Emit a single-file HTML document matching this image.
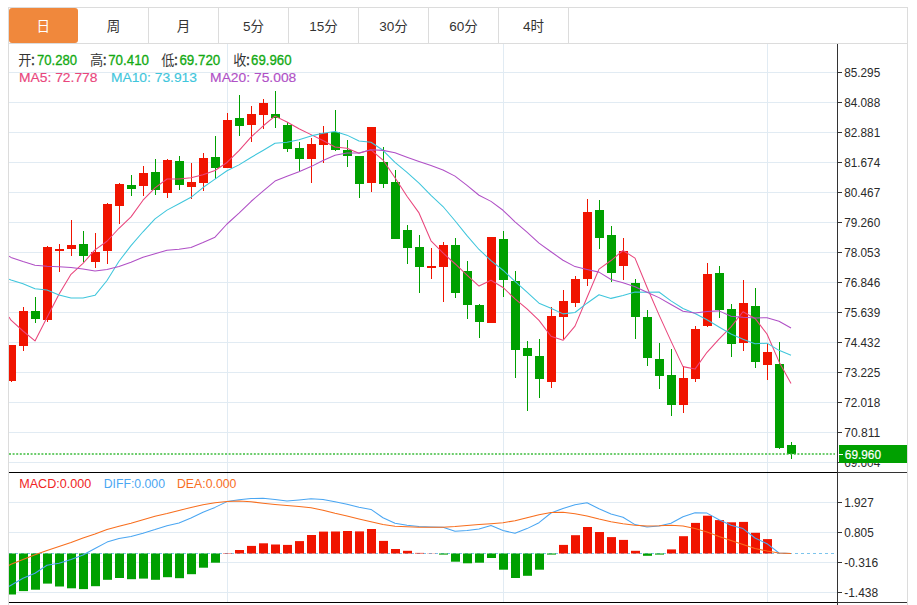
<!DOCTYPE html><html><head><meta charset="utf-8"><title>K</title><style>html,body{margin:0;padding:0;background:#fff;width:917px;height:605px;overflow:hidden}svg{display:block}text{font-family:'Liberation Sans','Noto Sans CJK SC',sans-serif}</style></head><body>
<svg width="917" height="605" viewBox="0 0 917 605">
<rect x="0" y="0" width="917" height="605" fill="#fff"/>
<path d="M9 72.5H837 M9 102.5H837 M9 132.5H837 M9 162.5H837 M9 192.5H837 M9 222.5H837 M9 252.5H837 M9 282.5H837 M9 312.5H837 M9 342.5H837 M9 372.5H837 M9 402.5H837 M9 432.5H837 M9 462.5H837 M9 502.5H837 M9 532.5H837 M9 562.5H837 M9 592.5H837 M227.5 44V602 M503.5 44V602 M767.5 44V602" stroke="#e1ebf3" stroke-width="1" fill="none"/>
<defs><clipPath id="cp"><rect x="9" y="44" width="828" height="428"/></clipPath><clipPath id="cm"><rect x="9" y="473" width="828" height="129"/></clipPath></defs>
<g clip-path="url(#cp)" shape-rendering="crispEdges"><g fill="#f01400"><rect x="6.5" y="345.4" width="9" height="35.9"/><rect x="10.5" y="344.9" width="1" height="36.9"/><rect x="18.5" y="311.2" width="9" height="34.7"/><rect x="22.5" y="307.4" width="1" height="43.6"/><rect x="42.5" y="247.3" width="9" height="72.5"/><rect x="46.5" y="246.0" width="1" height="75.5"/><rect x="54.5" y="248.9" width="9" height="2.0"/><rect x="58.5" y="244.2" width="1" height="28.2"/><rect x="66.5" y="245.3" width="9" height="3.4"/><rect x="70.5" y="220.0" width="1" height="36.2"/><rect x="90.5" y="251.7" width="9" height="10.7"/><rect x="94.5" y="233.4" width="1" height="34.5"/><rect x="102.5" y="204.1" width="9" height="46.9"/><rect x="106.5" y="203.1" width="1" height="60.5"/><rect x="114.5" y="184.0" width="9" height="22.1"/><rect x="118.5" y="182.6" width="1" height="41.4"/><rect x="138.5" y="172.9" width="9" height="12.6"/><rect x="142.5" y="165.5" width="1" height="30.5"/><rect x="162.5" y="159.8" width="9" height="33.3"/><rect x="166.5" y="159.3" width="1" height="38.5"/><rect x="186.5" y="181.7" width="9" height="4.9"/><rect x="190.5" y="163.1" width="1" height="35.9"/><rect x="198.5" y="158.4" width="9" height="24.8"/><rect x="202.5" y="153.2" width="1" height="37.9"/><rect x="222.5" y="119.5" width="9" height="48.9"/><rect x="226.5" y="113.0" width="1" height="55.4"/><rect x="246.5" y="114.2" width="9" height="10.7"/><rect x="250.5" y="105.8" width="1" height="36.2"/><rect x="258.5" y="102.8" width="9" height="11.9"/><rect x="262.5" y="98.8" width="1" height="29.8"/><rect x="306.5" y="143.7" width="9" height="15.6"/><rect x="310.5" y="137.5" width="1" height="45.9"/><rect x="318.5" y="132.6" width="9" height="12.4"/><rect x="322.5" y="125.9" width="1" height="37.2"/><rect x="366.5" y="126.6" width="9" height="56.4"/><rect x="370.5" y="126.6" width="1" height="65.4"/><rect x="426.5" y="265.9" width="9" height="1.9"/><rect x="430.5" y="248.4" width="1" height="30.4"/><rect x="438.5" y="244.7" width="9" height="21.8"/><rect x="442.5" y="241.7" width="1" height="59.9"/><rect x="486.5" y="237.4" width="9" height="85.2"/><rect x="490.5" y="236.9" width="1" height="86.4"/><rect x="546.5" y="316.3" width="9" height="66.0"/><rect x="550.5" y="307.2" width="1" height="80.6"/><rect x="558.5" y="300.9" width="9" height="15.9"/><rect x="562.5" y="289.9" width="1" height="49.0"/><rect x="570.5" y="278.6" width="9" height="24.7"/><rect x="574.5" y="275.8" width="1" height="30.8"/><rect x="582.5" y="212.3" width="9" height="66.6"/><rect x="586.5" y="199.4" width="1" height="86.1"/><rect x="618.5" y="250.7" width="9" height="14.9"/><rect x="622.5" y="238.4" width="1" height="41.2"/><rect x="678.5" y="378.1" width="9" height="27.0"/><rect x="682.5" y="365.6" width="1" height="47.0"/><rect x="690.5" y="328.9" width="9" height="50.2"/><rect x="694.5" y="326.2" width="1" height="55.4"/><rect x="702.5" y="274.0" width="9" height="52.3"/><rect x="706.5" y="263.2" width="1" height="63.8"/><rect x="738.5" y="302.6" width="9" height="40.1"/><rect x="742.5" y="280.3" width="1" height="71.0"/><rect x="762.5" y="352.0" width="9" height="12.8"/><rect x="766.5" y="343.5" width="1" height="36.8"/></g><g fill="#00a000"><rect x="30.5" y="311.2" width="9" height="7.6"/><rect x="34.5" y="297.0" width="1" height="25.6"/><rect x="78.5" y="244.0" width="9" height="12.2"/><rect x="82.5" y="231.2" width="1" height="30.5"/><rect x="126.5" y="185.0" width="9" height="3.5"/><rect x="130.5" y="174.9" width="1" height="21.1"/><rect x="150.5" y="172.0" width="9" height="17.7"/><rect x="154.5" y="158.9" width="1" height="35.9"/><rect x="174.5" y="161.3" width="9" height="23.3"/><rect x="178.5" y="156.1" width="1" height="33.5"/><rect x="210.5" y="157.0" width="9" height="11.0"/><rect x="214.5" y="136.0" width="1" height="42.8"/><rect x="234.5" y="118.4" width="9" height="7.2"/><rect x="238.5" y="94.9" width="1" height="41.1"/><rect x="270.5" y="114.2" width="9" height="4.2"/><rect x="274.5" y="91.2" width="1" height="37.2"/><rect x="282.5" y="125.4" width="9" height="23.5"/><rect x="286.5" y="122.2" width="1" height="29.7"/><rect x="294.5" y="148.4" width="9" height="10.9"/><rect x="298.5" y="142.0" width="1" height="30.2"/><rect x="330.5" y="132.1" width="9" height="18.3"/><rect x="334.5" y="110.3" width="1" height="41.1"/><rect x="342.5" y="150.2" width="9" height="5.4"/><rect x="346.5" y="139.5" width="1" height="27.3"/><rect x="354.5" y="155.6" width="9" height="28.3"/><rect x="358.5" y="155.6" width="1" height="42.2"/><rect x="378.5" y="162.2" width="9" height="21.5"/><rect x="382.5" y="147.3" width="1" height="40.9"/><rect x="390.5" y="182.0" width="9" height="57.0"/><rect x="394.5" y="170.3" width="1" height="68.7"/><rect x="402.5" y="229.9" width="9" height="18.2"/><rect x="406.5" y="225.3" width="1" height="39.0"/><rect x="414.5" y="246.9" width="9" height="20.3"/><rect x="418.5" y="235.1" width="1" height="57.8"/><rect x="450.5" y="244.7" width="9" height="48.1"/><rect x="454.5" y="238.2" width="1" height="59.7"/><rect x="462.5" y="270.8" width="9" height="34.2"/><rect x="466.5" y="260.9" width="1" height="57.8"/><rect x="474.5" y="305.0" width="9" height="16.7"/><rect x="478.5" y="303.8" width="1" height="34.0"/><rect x="498.5" y="238.6" width="9" height="41.8"/><rect x="502.5" y="231.2" width="1" height="65.7"/><rect x="510.5" y="281.3" width="9" height="68.5"/><rect x="514.5" y="271.0" width="1" height="107.4"/><rect x="522.5" y="347.7" width="9" height="7.8"/><rect x="526.5" y="341.4" width="1" height="69.2"/><rect x="534.5" y="356.2" width="9" height="22.9"/><rect x="538.5" y="338.9" width="1" height="58.8"/><rect x="594.5" y="210.3" width="9" height="27.3"/><rect x="598.5" y="199.9" width="1" height="49.1"/><rect x="606.5" y="235.1" width="9" height="38.2"/><rect x="610.5" y="226.0" width="1" height="56.0"/><rect x="630.5" y="283.0" width="9" height="33.5"/><rect x="634.5" y="278.6" width="1" height="60.8"/><rect x="642.5" y="316.5" width="9" height="41.5"/><rect x="646.5" y="309.7" width="1" height="56.5"/><rect x="654.5" y="359.3" width="9" height="16.6"/><rect x="658.5" y="343.1" width="1" height="45.4"/><rect x="666.5" y="374.6" width="9" height="30.0"/><rect x="670.5" y="348.8" width="1" height="66.7"/><rect x="714.5" y="273.1" width="9" height="36.5"/><rect x="718.5" y="266.2" width="1" height="51.4"/><rect x="726.5" y="309.1" width="9" height="34.7"/><rect x="730.5" y="304.1" width="1" height="52.6"/><rect x="750.5" y="306.1" width="9" height="56.1"/><rect x="754.5" y="288.0" width="1" height="80.3"/><rect x="774.5" y="364.1" width="9" height="83.6"/><rect x="778.5" y="342.3" width="1" height="107.1"/><rect x="786.5" y="445.4" width="9" height="8.1"/><rect x="790.5" y="442.1" width="1" height="16.9"/></g></g>
<g clip-path="url(#cp)">
<polyline points="9,316.90 11,320.20 23,331.00 35,340.90 47,317.50 59,294.32 71,274.30 83,263.30 95,249.88 107,241.24 119,228.26 131,216.90 143,200.24 155,187.84 167,178.98 179,179.10 191,177.74 203,174.84 215,170.50 227,162.44 239,150.64 251,137.14 263,126.02 275,116.10 287,121.98 299,128.72 311,134.62 323,140.58 335,146.98 347,148.32 359,153.24 371,149.82 383,160.04 395,177.76 407,196.26 419,212.92 431,240.78 443,252.98 455,263.74 467,275.12 479,286.02 491,280.32 503,287.46 515,298.86 527,308.96 539,320.44 551,336.22 563,340.32 575,326.08 587,297.44 599,269.14 611,260.54 623,250.50 635,258.08 647,287.22 659,314.88 671,341.14 683,366.62 695,369.10 707,352.30 719,339.04 731,326.88 743,311.78 755,318.44 767,334.04 779,361.66 791,383.60" fill="none" stroke="#e9467c" stroke-width="1.05" stroke-linejoin="round"/>
<polyline points="9,279.20 11,280.00 23,283.80 35,288.80 47,290.00 59,295.00 71,297.90 83,297.90 95,295.30 107,280.50 119,261.29 131,245.60 143,231.77 155,218.86 167,210.11 179,203.68 191,197.32 203,187.54 215,179.17 227,170.71 239,164.87 251,157.44 263,150.43 275,143.30 287,142.21 299,139.68 311,135.88 323,133.30 335,131.54 347,135.15 359,140.98 371,142.22 383,150.31 395,162.37 407,172.29 419,183.08 431,195.30 443,206.51 455,220.75 467,235.69 479,249.47 491,260.55 503,270.22 515,281.30 527,292.04 539,303.23 551,308.27 563,313.89 575,312.47 587,303.20 599,294.79 611,298.38 623,295.41 635,292.08 647,292.33 659,292.01 671,300.84 683,308.56 695,313.59 707,319.76 719,326.96 731,334.01 743,339.20 755,343.77 767,343.17 779,350.35 791,355.24" fill="none" stroke="#3fc6dc" stroke-width="1.05" stroke-linejoin="round"/>
<polyline points="9,256.20 11,257.40 23,261.50 35,265.20 47,266.20 59,266.70 71,267.50 83,268.90 95,271.00 107,269.50 119,266.60 131,262.30 143,257.30 155,253.80 167,250.20 179,249.30 191,247.40 203,242.50 215,237.20 227,224.00 239,213.08 251,201.52 263,191.10 275,181.08 287,176.16 299,171.68 311,166.60 323,160.42 335,155.35 347,152.93 359,152.93 371,149.83 383,150.37 395,152.83 407,157.25 419,161.38 431,165.59 443,169.91 455,176.15 467,185.42 479,195.22 491,201.38 503,210.27 515,221.83 527,232.17 539,243.16 551,251.78 563,260.20 575,266.61 587,269.44 599,272.13 611,279.47 623,282.81 635,286.69 647,292.19 659,297.62 671,304.56 683,311.23 695,313.03 707,311.48 719,310.88 731,316.19 743,317.31 755,317.93 767,317.75 779,321.18 791,328.04" fill="none" stroke="#b050c6" stroke-width="1.05" stroke-linejoin="round"/>
</g>
<path d="M9 454H835" stroke="#3cbc3c" stroke-width="1.6" stroke-dasharray="2 1.6" fill="none"/>
<path d="M9 553.5H835" stroke="#7cc4ec" stroke-width="1" stroke-dasharray="3 3" fill="none"/>
<g clip-path="url(#cm)"><g fill="#f01400"><rect x="223" y="553.1" width="9" height="0.4"/><rect x="235" y="550.0" width="9" height="3.5"/><rect x="247" y="545.9" width="9" height="7.6"/><rect x="259" y="543.3" width="9" height="10.2"/><rect x="271" y="544.5" width="9" height="9.0"/><rect x="283" y="544.9" width="9" height="8.6"/><rect x="295" y="541.1" width="9" height="12.4"/><rect x="307" y="535.0" width="9" height="18.5"/><rect x="319" y="531.6" width="9" height="21.9"/><rect x="331" y="531.5" width="9" height="22.0"/><rect x="343" y="531.0" width="9" height="22.5"/><rect x="355" y="531.4" width="9" height="22.1"/><rect x="367" y="529.0" width="9" height="24.5"/><rect x="379" y="540.9" width="9" height="12.6"/><rect x="391" y="549.0" width="9" height="4.5"/><rect x="403" y="550.8" width="9" height="2.7"/><rect x="415" y="552.9" width="9" height="0.6"/><rect x="427" y="553.3" width="9" height="0.2"/><rect x="559" y="544.9" width="9" height="8.6"/><rect x="571" y="535.2" width="9" height="18.3"/><rect x="583" y="527.0" width="9" height="26.5"/><rect x="595" y="532.0" width="9" height="21.5"/><rect x="607" y="537.1" width="9" height="16.4"/><rect x="619" y="539.9" width="9" height="13.6"/><rect x="631" y="550.8" width="9" height="2.7"/><rect x="667" y="549.4" width="9" height="4.1"/><rect x="679" y="536.2" width="9" height="17.3"/><rect x="691" y="522.9" width="9" height="30.6"/><rect x="703" y="515.7" width="9" height="37.8"/><rect x="715" y="520.1" width="9" height="33.4"/><rect x="727" y="522.3" width="9" height="31.2"/><rect x="739" y="521.9" width="9" height="31.6"/><rect x="751" y="532.8" width="9" height="20.7"/><rect x="763" y="539.1" width="9" height="14.4"/></g><g fill="#00a000"><rect x="7" y="553.5" width="9" height="41.0"/><rect x="19" y="553.5" width="9" height="37.6"/><rect x="31" y="553.5" width="9" height="36.2"/><rect x="43" y="553.5" width="9" height="30.1"/><rect x="55" y="553.5" width="9" height="33.0"/><rect x="67" y="553.5" width="9" height="34.8"/><rect x="79" y="553.5" width="9" height="35.6"/><rect x="91" y="553.5" width="9" height="32.7"/><rect x="103" y="553.5" width="9" height="26.3"/><rect x="115" y="553.5" width="9" height="24.5"/><rect x="127" y="553.5" width="9" height="25.7"/><rect x="139" y="553.5" width="9" height="25.1"/><rect x="151" y="553.5" width="9" height="26.3"/><rect x="163" y="553.5" width="9" height="23.7"/><rect x="175" y="553.5" width="9" height="24.7"/><rect x="187" y="553.5" width="9" height="20.7"/><rect x="199" y="553.5" width="9" height="14.2"/><rect x="211" y="553.5" width="9" height="9.2"/><rect x="439" y="553.5" width="9" height="1.1"/><rect x="451" y="553.5" width="9" height="8.2"/><rect x="463" y="553.5" width="9" height="9.8"/><rect x="475" y="553.5" width="9" height="9.2"/><rect x="487" y="553.5" width="9" height="4.5"/><rect x="499" y="553.5" width="9" height="16.2"/><rect x="511" y="553.5" width="9" height="24.5"/><rect x="523" y="553.5" width="9" height="22.3"/><rect x="535" y="553.5" width="9" height="16.2"/><rect x="547" y="553.5" width="9" height="1.1"/><rect x="643" y="553.5" width="9" height="2.3"/><rect x="655" y="553.5" width="9" height="1.1"/></g></g>
<g clip-path="url(#cm)">
<polyline points="8.4,586.7 11,585.20 23,578.20 35,573.30 47,565.30 59,563.30 71,559.40 83,555.00 95,548.50 107,542.10 119,538.50 131,536.50 143,533.20 155,529.60 167,525.70 179,523.00 191,518.00 203,512.30 215,507.40 227,501.60 239,499.80 251,498.50 263,498.30 275,499.40 287,501.00 299,500.00 311,498.80 323,499.40 335,501.80 347,504.20 359,507.20 371,509.40 383,517.70 395,523.30 407,525.20 419,526.60 431,527.00 443,527.20 455,531.20 467,530.60 479,529.00 491,525.60 503,530.60 515,533.20 527,528.60 539,522.70 551,513.00 563,508.40 575,504.80 587,502.80 599,508.80 611,514.10 623,517.30 635,524.60 647,527.00 659,526.10 671,523.30 683,516.70 695,512.70 707,513.10 719,519.70 731,525.20 743,528.60 755,538.00 767,543.70 779,553.00 791,553.40" fill="none" stroke="#4aa6f2" stroke-width="1.05" stroke-linejoin="round"/>
<polyline points="8.4,565.7 11,564.30 23,559.40 35,554.80 47,550.40 59,546.50 71,542.50 83,538.10 95,534.00 107,529.60 119,526.30 131,523.30 143,519.70 155,516.30 167,513.50 179,510.40 191,507.40 203,504.70 215,502.80 227,501.60 239,501.00 251,501.80 263,503.20 275,504.40 287,505.40 299,506.40 311,507.80 323,510.20 335,513.30 347,516.10 359,518.90 371,521.70 383,524.60 395,526.20 407,526.80 419,527.20 431,527.20 443,527.20 455,526.60 467,525.60 479,524.60 491,523.70 503,522.70 515,520.70 527,517.70 539,514.70 551,512.50 563,512.30 575,513.70 587,516.10 599,519.10 611,521.70 623,523.70 635,525.20 647,526.00 659,525.80 671,525.20 683,526.00 695,528.60 707,532.00 719,536.50 731,540.50 743,544.50 755,548.50 767,551.00 779,553.00 791,553.40" fill="none" stroke="#f86e1e" stroke-width="1.05" stroke-linejoin="round"/>
</g>
<path d="M8.5 7V605M907.5 7V605M8 7.5H908M8 43.5H908" stroke="#dcdcdc" stroke-width="1" fill="none"/>
<path d="M148.5 8V43 M218.5 8V43 M288.5 8V43 M358.5 8V43 M428.5 8V43 M498.5 8V43 M568.5 8V43" stroke="#dcdcdc" stroke-width="1" fill="none"/>
<path d="M9 472.5H837M9 602.5H837" stroke="#000" stroke-width="1" fill="none"/>
<path d="M837 472.5H907M837 602.5H907M837.5 44V605" stroke="#333" stroke-width="1" fill="none"/>
<path d="M838 72.5H842 M838 102.5H842 M838 132.5H842 M838 162.5H842 M838 192.5H842 M838 222.5H842 M838 252.5H842 M838 282.5H842 M838 312.5H842 M838 342.5H842 M838 372.5H842 M838 402.5H842 M838 432.5H842 M838 462.5H842 M838 502.5H842 M838 532.5H842 M838 562.5H842 M838 592.5H842" stroke="#333" stroke-width="1" fill="none"/>
<rect x="9" y="8" width="69" height="35" rx="3" ry="3" fill="#f0883c"/>
<text x="43.2" y="30.6" font-size="13.5" text-anchor="middle" fill="#fff">日</text>
<text x="113.6" y="30.6" font-size="13.5" text-anchor="middle" fill="#333333">周</text>
<text x="183.6" y="30.6" font-size="13.5" text-anchor="middle" fill="#333333">月</text>
<text x="253.6" y="30.6" font-size="13.5" text-anchor="middle" fill="#333333">5分</text>
<text x="323.6" y="30.6" font-size="13.5" text-anchor="middle" fill="#333333">15分</text>
<text x="393.6" y="30.6" font-size="13.5" text-anchor="middle" fill="#333333">30分</text>
<text x="463.6" y="30.6" font-size="13.5" text-anchor="middle" fill="#333333">60分</text>
<text x="533.6" y="30.6" font-size="13.5" text-anchor="middle" fill="#333333">4时</text>
<text x="844.2" y="76.8" font-size="13" fill="#2a2a2a" textLength="36" lengthAdjust="spacingAndGlyphs">85.295</text>
<text x="844.2" y="106.8" font-size="13" fill="#2a2a2a" textLength="36" lengthAdjust="spacingAndGlyphs">84.088</text>
<text x="844.2" y="136.8" font-size="13" fill="#2a2a2a" textLength="36" lengthAdjust="spacingAndGlyphs">82.881</text>
<text x="844.2" y="166.8" font-size="13" fill="#2a2a2a" textLength="36" lengthAdjust="spacingAndGlyphs">81.674</text>
<text x="844.2" y="196.8" font-size="13" fill="#2a2a2a" textLength="36" lengthAdjust="spacingAndGlyphs">80.467</text>
<text x="844.2" y="226.8" font-size="13" fill="#2a2a2a" textLength="36" lengthAdjust="spacingAndGlyphs">79.260</text>
<text x="844.2" y="256.8" font-size="13" fill="#2a2a2a" textLength="36" lengthAdjust="spacingAndGlyphs">78.053</text>
<text x="844.2" y="286.8" font-size="13" fill="#2a2a2a" textLength="36" lengthAdjust="spacingAndGlyphs">76.846</text>
<text x="844.2" y="316.8" font-size="13" fill="#2a2a2a" textLength="36" lengthAdjust="spacingAndGlyphs">75.639</text>
<text x="844.2" y="346.8" font-size="13" fill="#2a2a2a" textLength="36" lengthAdjust="spacingAndGlyphs">74.432</text>
<text x="844.2" y="376.8" font-size="13" fill="#2a2a2a" textLength="36" lengthAdjust="spacingAndGlyphs">73.225</text>
<text x="844.2" y="406.8" font-size="13" fill="#2a2a2a" textLength="36" lengthAdjust="spacingAndGlyphs">72.018</text>
<text x="844.2" y="436.8" font-size="13" fill="#2a2a2a" textLength="36" lengthAdjust="spacingAndGlyphs">70.811</text>
<text x="844.2" y="466.8" font-size="13" fill="#2a2a2a" textLength="36" lengthAdjust="spacingAndGlyphs">69.604</text>
<text x="844.2" y="506.8" font-size="12.5" fill="#2a2a2a" textLength="29.5" lengthAdjust="spacingAndGlyphs">1.927</text>
<text x="844.2" y="536.8" font-size="12.5" fill="#2a2a2a" textLength="29.5" lengthAdjust="spacingAndGlyphs">0.805</text>
<text x="844.2" y="566.8" font-size="12.5" fill="#2a2a2a" textLength="34" lengthAdjust="spacingAndGlyphs">-0.316</text>
<text x="844.2" y="596.8" font-size="12.5" fill="#2a2a2a" textLength="34" lengthAdjust="spacingAndGlyphs">-1.438</text>
<rect x="839" y="445" width="68" height="18" fill="#00a000"/>
<path d="M839 454.5H843" stroke="#fff" stroke-width="1"/>
<text x="844.8" y="458.7" font-size="13.2" fill="#fff" stroke="#fff" stroke-width="0.2" textLength="36.2" lengthAdjust="spacingAndGlyphs">69.960</text>
<text x="18.3" y="65.2" font-size="13.2" fill="#333333">开</text>
<text x="31.1" y="64.6" font-size="14" fill="#333333" stroke="#333333" stroke-width="0.5">:</text>
<text x="90.0" y="65.2" font-size="13.2" fill="#333333">高</text>
<text x="102.8" y="64.6" font-size="14" fill="#333333" stroke="#333333" stroke-width="0.5">:</text>
<text x="161.3" y="65.2" font-size="13.2" fill="#333333">低</text>
<text x="174.10000000000002" y="64.6" font-size="14" fill="#333333" stroke="#333333" stroke-width="0.5">:</text>
<text x="233.2" y="65.2" font-size="13.2" fill="#333333">收</text>
<text x="246.0" y="64.6" font-size="14" fill="#333333" stroke="#333333" stroke-width="0.5">:</text>
<text x="37" y="64.8" font-size="14" fill="#13aa13" textLength="40" lengthAdjust="spacingAndGlyphs" stroke="#13aa13" stroke-width="0.3">70.280</text>
<text x="108.2" y="64.8" font-size="14" fill="#13aa13" textLength="40.8" lengthAdjust="spacingAndGlyphs" stroke="#13aa13" stroke-width="0.3">70.410</text>
<text x="179.4" y="64.8" font-size="14" fill="#13aa13" textLength="40.9" lengthAdjust="spacingAndGlyphs" stroke="#13aa13" stroke-width="0.3">69.720</text>
<text x="251.1" y="64.8" font-size="14" fill="#13aa13" textLength="40.4" lengthAdjust="spacingAndGlyphs" stroke="#13aa13" stroke-width="0.3">69.960</text>
<text x="19" y="82.4" font-size="13.3" fill="#e9467c" textLength="78.5" lengthAdjust="spacingAndGlyphs" stroke="#e9467c" stroke-width="0.15">MA5: 72.778</text>
<text x="110.9" y="82.4" font-size="13.3" fill="#3fc6dc" textLength="86.1" lengthAdjust="spacingAndGlyphs" stroke="#3fc6dc" stroke-width="0.15">MA10: 73.913</text>
<text x="210.1" y="82.4" font-size="13.3" fill="#b050c6" textLength="86.2" lengthAdjust="spacingAndGlyphs" stroke="#b050c6" stroke-width="0.15">MA20: 75.008</text>
<text x="19.2" y="487.6" font-size="12.5" fill="#f02424" textLength="72" lengthAdjust="spacingAndGlyphs">MACD:0.000</text>
<text x="103.7" y="487.6" font-size="12.5" fill="#4aa6f2" textLength="61.3" lengthAdjust="spacingAndGlyphs">DIFF:0.000</text>
<text x="177" y="487.6" font-size="12.5" fill="#f86e1e" textLength="59.4" lengthAdjust="spacingAndGlyphs">DEA:0.000</text>
</svg></body></html>
